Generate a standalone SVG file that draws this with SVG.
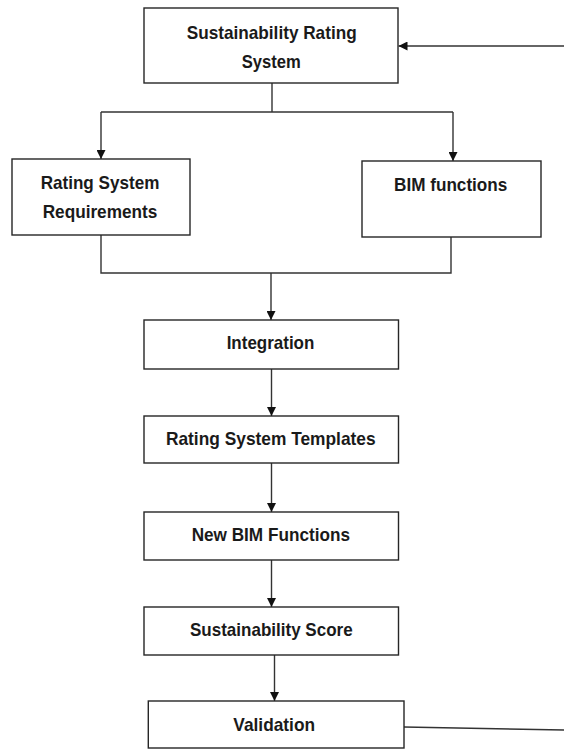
<svg xmlns="http://www.w3.org/2000/svg" width="564" height="749" viewBox="0 0 564 749">
<style>
.box{fill:#fff;stroke:#262626;stroke-width:1.4}
.lbl{font-family:"Liberation Sans Narrow","Liberation Sans",Arial,sans-serif;font-weight:bold;font-size:19px;fill:#1a1a1a;text-anchor:middle}
.con{fill:none;stroke:#333;stroke-width:1.4}
</style>
<defs>
<marker id="ah" viewBox="0 0 10 10" refX="10" refY="5" markerWidth="9" markerHeight="9" markerUnits="userSpaceOnUse" orient="auto">
<path d="M0,0 L10,5 L0,10 Z" fill="#111"/>
</marker>
</defs>
<rect width="564" height="749" fill="#fff"/>
<g id="connectors">
<path class="con" d="M272,83 V112"/>
<path class="con" d="M101,112 H453"/>
<path class="con" d="M101,112 V159" marker-end="url(#ah)"/>
<path class="con" d="M453,112 V161" marker-end="url(#ah)"/>
<path class="con" d="M564,46 H398.5" marker-end="url(#ah)"/>
<path class="con" d="M101,235 V273 H451 V237"/>
<path class="con" d="M271,273 V320" marker-end="url(#ah)"/>
<path class="con" d="M271.5,369 V416" marker-end="url(#ah)"/>
<path class="con" d="M271.5,463 V512" marker-end="url(#ah)"/>
<path class="con" d="M271.5,560 V607" marker-end="url(#ah)"/>
<path class="con" d="M274.5,655 V701" marker-end="url(#ah)"/>
<path class="con" d="M404,727 L564,730"/>
</g>
<g id="node-srs">
<rect class="box" x="144" y="8" width="254" height="75"/>
<text class="lbl" x="271.7" y="38.5" textLength="170" lengthAdjust="spacingAndGlyphs">Sustainability Rating</text>
<text class="lbl" x="271.2" y="67.5" textLength="59" lengthAdjust="spacingAndGlyphs">System</text>
</g>
<g id="node-req">
<rect class="box" x="12" y="159" width="178" height="76"/>
<text class="lbl" x="100" y="189.3" textLength="118.7" lengthAdjust="spacingAndGlyphs">Rating System</text>
<text class="lbl" x="100" y="218.3" textLength="114.7" lengthAdjust="spacingAndGlyphs">Requirements</text>
</g>
<g id="node-bim">
<rect class="box" x="362" y="161" width="179" height="76"/>
<text class="lbl" x="450.7" y="190.7" textLength="113.3" lengthAdjust="spacingAndGlyphs">BIM functions</text>
</g>
<g id="node-integration">
<rect class="box" x="144" y="320" width="254.5" height="49"/>
<text class="lbl" x="270.5" y="349" textLength="87.7" lengthAdjust="spacingAndGlyphs">Integration</text>
</g>
<g id="node-templates">
<rect class="box" x="144" y="416" width="254.5" height="47"/>
<text class="lbl" x="270.8" y="445" textLength="209.7" lengthAdjust="spacingAndGlyphs">Rating System Templates</text>
</g>
<g id="node-newbim">
<rect class="box" x="144" y="512" width="254.5" height="48"/>
<text class="lbl" x="270.8" y="540.7" textLength="158.3" lengthAdjust="spacingAndGlyphs">New BIM Functions</text>
</g>
<g id="node-score">
<rect class="box" x="144" y="607" width="254.5" height="48"/>
<text class="lbl" x="271.3" y="636" textLength="162.7" lengthAdjust="spacingAndGlyphs">Sustainability Score</text>
</g>
<g id="node-validation">
<rect class="box" x="148.3" y="701" width="255.7" height="47"/>
<text class="lbl" x="274.2" y="730.7" textLength="81.7" lengthAdjust="spacingAndGlyphs">Validation</text>
</g>
</svg>
